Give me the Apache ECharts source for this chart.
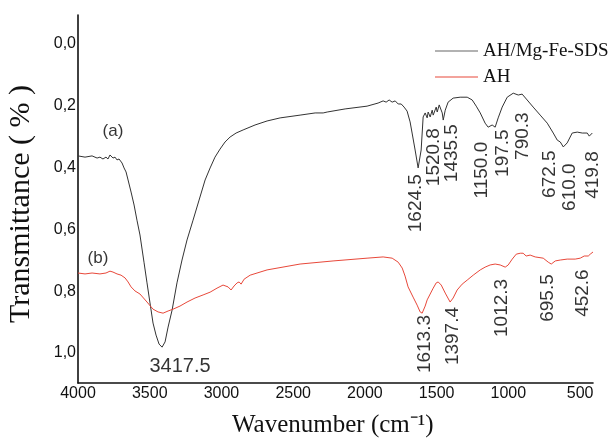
<!DOCTYPE html>
<html>
<head>
<meta charset="utf-8">
<script src="https://cdn.jsdelivr.net/npm/echarts@6/dist/echarts.min.js"></script>
<style>
html,body{margin:0;padding:0;background:#fff;}
#chart{width:609px;height:445px;}
</style>
</head>
<body>
<div id="chart"></div>
<script>
// ---- data (wavenumber in cm-1, transmittance) ----
const seriesNames = ['AH/Mg-Fe-SDS', 'AH'];

const waveA = [4000,3951,3902,3867,3847,3826,3805,3791,3777,3756,3742,3728,3714,3693,3679,3665,3651,3630,3609,3589,3568,3540,3519,3498,3477,3456,3435,3414,3393,3372,3344,3310,3275,3240,3198,3156,3114,3079,3045,3010,2975,2940,2898,2849,2766,2682,2591,2452,2347,2291,2263,2138,1985,1908,1873,1852,1831,1810,1789,1768,1747,1727,1706,1685,1671,1650,1629,1608,1594,1580,1566,1559,1545,1531,1524,1503,1496,1482,1461,1454,1440,1420,1385,1336,1287,1252,1224,1196,1162,1141,1113,1092,1071,1043,1008,966,931,904,869,827,778,729,687,659,638,617,590,555,520,485,450,436,415];
const transA = [0.362,0.366,0.362,0.369,0.366,0.372,0.366,0.372,0.359,0.369,0.366,0.375,0.372,0.385,0.401,0.414,0.440,0.479,0.521,0.570,0.618,0.706,0.773,0.838,0.903,0.942,0.971,0.981,0.964,0.916,0.861,0.773,0.699,0.634,0.570,0.505,0.440,0.401,0.366,0.340,0.317,0.301,0.288,0.278,0.262,0.249,0.239,0.230,0.223,0.223,0.220,0.210,0.201,0.191,0.184,0.188,0.181,0.188,0.184,0.194,0.194,0.204,0.217,0.252,0.288,0.343,0.401,0.343,0.236,0.223,0.239,0.220,0.236,0.214,0.230,0.204,0.220,0.197,0.223,0.246,0.214,0.188,0.175,0.172,0.172,0.181,0.201,0.223,0.256,0.269,0.262,0.269,0.239,0.204,0.172,0.159,0.165,0.162,0.181,0.204,0.230,0.256,0.288,0.311,0.317,0.333,0.320,0.288,0.285,0.288,0.288,0.298,0.288];

const waveB = [4000,3951,3902,3847,3805,3777,3756,3728,3700,3672,3651,3630,3603,3568,3519,3477,3442,3407,3372,3337,3289,3240,3184,3128,3079,3031,2989,2954,2933,2912,2891,2877,2863,2842,2800,2682,2452,2222,1985,1873,1810,1768,1740,1720,1699,1664,1636,1615,1601,1580,1566,1524,1503,1489,1468,1440,1406,1385,1357,1322,1287,1245,1196,1162,1127,1092,1057,1022,1001,973,945,917,897,876,848,813,757,722,701,673,638,590,534,499,471,443,429,410];
const transB = [0.741,0.744,0.741,0.744,0.741,0.735,0.738,0.744,0.748,0.757,0.770,0.786,0.799,0.809,0.835,0.858,0.867,0.871,0.864,0.858,0.848,0.835,0.822,0.812,0.803,0.790,0.780,0.786,0.796,0.783,0.773,0.770,0.777,0.761,0.748,0.731,0.712,0.702,0.693,0.689,0.693,0.706,0.725,0.751,0.786,0.819,0.845,0.867,0.871,0.848,0.828,0.790,0.773,0.770,0.780,0.806,0.835,0.822,0.796,0.777,0.764,0.748,0.731,0.722,0.715,0.712,0.715,0.722,0.715,0.696,0.680,0.677,0.677,0.686,0.683,0.689,0.693,0.706,0.712,0.702,0.699,0.696,0.696,0.693,0.686,0.686,0.680,0.673];

const xTickLabels = [4000, 3500, 3000, 2500, 2000, 1500, 1000, 500];
const yTickLabels = [0, 0.2, 0.4, 0.6, 0.8, 1.0];

// peak annotations: text and anchor in data units [wavenumber, transmittance]
const peakTextA = ['1624.5','1520.8','1435.5','1150.0','197.5','790.3','672.5','610.0','419.8'];
const peakAtA = [[1643,0.515],[1517,0.366],[1392,0.353],[1183,0.408],[1036,0.353],[897,0.298],[708,0.421],[569,0.463],[412,0.424]];
const peakTextB = ['1613.3','1397.4','1012.3','695.5','452.6'];
const peakAtB = [[1580,0.971],[1385,0.945],[1043,0.854],[722,0.822],[478,0.806]];
const flatText = ['3417.5','(a)','(b)'];
const flatAt = [[3289,1.042],[3756,0.282],[3861,0.693]];

// ---- build ----
const chart = echarts.init(document.getElementById('chart'), null, {renderer:'canvas'});
const zip = (w, t) => w.map((v, i) => [v, t[i]]);

const vertLabels = peakTextA.map((t,i)=>({value: peakAtA[i], name: t}))
  .concat(peakTextB.map((t,i)=>({value: peakAtB[i], name: t})));
const flatLabels = flatText.map((t,i)=>({value: flatAt[i], name: t,
  label: {fontSize: i === 0 ? 20 : 17}}));

const option = {
  animation: false,
  backgroundColor: '#fff',
  grid: {left: 78, right: 16, top: 15, bottom: 62, containLabel: false},
  legend: {
    data: seriesNames,
    orient: 'vertical',
    left: 430, top: 36,
    icon: 'rect',
    itemWidth: 43, itemHeight: 1, itemGap: 6,
    textStyle: {fontFamily: 'Liberation Serif', fontSize: 19, color: '#111', lineHeight: 20}
  },
  xAxis: {
    type: 'value', inverse: true, min: 410, max: 4000,
    axisLine: {show: true, onZero: false, lineStyle: {color: '#111', width: 1.6}},
    axisTick: {show: false},
    splitLine: {show: false},
    axisLabel: {customValues: xTickLabels, margin: 3, fontFamily: 'Liberation Sans',
      fontSize: 16, color: '#111', formatter: v => String(v)}
  },
  yAxis: {
    type: 'value', inverse: true, min: -0.094, max: 1.097,
    axisLine: {show: true, onZero: false, lineStyle: {color: '#111', width: 1.6}},
    axisTick: {show: false},
    splitLine: {show: false},
    axisLabel: {customValues: yTickLabels, margin: 2, fontFamily: 'Liberation Sans',
      fontSize: 16, color: '#111',
      formatter: v => v.toFixed(1).replace('.', ',')}
  },
  graphic: [
    {type: 'text', left: 6, top: 85, rotation: Math.PI/2,
     style: {text: 'Transmittance ( % )', font: '30px "Liberation Serif"', fill: '#111'}},
    {type: 'text', left: 232, top: 413,
     style: {text: 'Wavenumber (cm\u207B\u00B9)', font: '25px "Liberation Serif"', fill: '#111'}}
  ],
  series: [
    {name: seriesNames[0], type: 'line', data: zip(waveA, transA), symbol: 'none',
     lineStyle: {color: '#333', width: 1}, itemStyle: {color: '#666'}, silent: true},
    {name: seriesNames[1], type: 'line', data: zip(waveB, transB), symbol: 'none',
     lineStyle: {color: '#e8483a', width: 1}, itemStyle: {color: '#e8483a'}, silent: true},
    {name: 'peaks', type: 'scatter', symbolSize: 0, silent: true, clip: false,
     data: vertLabels,
     label: {show: true, position: 'inside', rotate: 90, formatter: p => p.name,
       fontFamily: 'Liberation Sans', fontSize: 19, color: '#000'}},
    {name: 'notes', type: 'scatter', symbolSize: 0, silent: true, clip: false,
     data: flatLabels,
     label: {show: true, position: 'inside', formatter: p => p.name,
       fontFamily: 'Liberation Sans', color: '#000'}}
  ]
};
chart.setOption(option);
</script>
</body>
</html>
